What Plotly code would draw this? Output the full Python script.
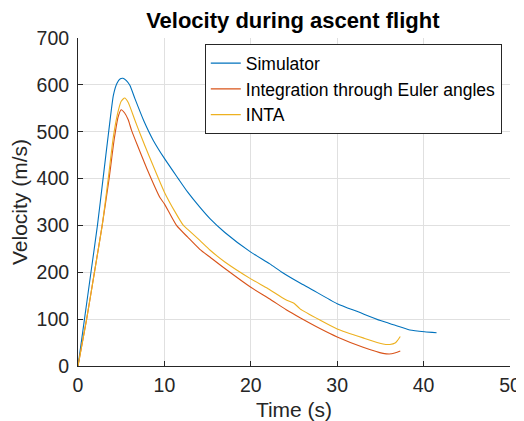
import plotly.graph_objects as go

# Simulator
t_sim = [0, 0.75, 1.5, 2.25, 2.9, 3.55, 4.1, 4.5, 4.9, 5.2, 5.6, 6.0, 6.6, 7.6, 8.7, 10.0, 11.6, 12.7,
         14.1, 15.3, 17.0, 20.0, 22.2, 23.6, 25.7, 26.9, 30.0, 32.5, 35.0, 36.5, 38.4, 40.1, 41.5]
v_sim = [0, 100, 200, 300, 400, 500, 578, 603, 613, 614, 609, 599, 570, 524, 482, 443, 400, 371,
         339, 314, 285, 243, 218, 200, 177, 165, 133, 115, 97, 88, 77, 73, 71]

# Integration through Euler angles
t_eul = [0, 1.0, 1.9, 2.8, 3.6, 4.2, 4.65, 5.0, 5.4, 5.8, 6.2, 6.9, 8.0, 9.5, 10.0, 11.4, 12.7,
         14.1, 15.3, 17.0, 20.0, 22.2, 24.1, 25.7, 28.0, 30.0, 33.0, 35.3, 36.3, 37.3]
v_eul = [0, 100, 200, 300, 400, 485, 532, 547, 540, 526, 503, 470, 420, 359, 346, 300, 275,
         249, 232, 208, 168, 143, 120, 103, 80, 62, 40, 27, 26, 32]

# INTA
t_inta = [0, 1.0, 1.9, 2.8, 3.5, 4.1, 4.6, 5.0, 5.4, 5.8, 6.6, 7.2, 8.3, 10.0, 11.2, 12.2, 12.8,
          14.1, 15.3, 17.0, 20.0, 22.0, 24.0, 25.0, 25.7, 28.0, 30.0, 33.0, 35.3, 36.1, 36.7, 37.0, 37.3]
v_inta = [0, 100, 200, 300, 400, 490, 540, 565, 572, 563, 524, 495, 445, 371, 330, 300, 290,
          268, 247, 222, 186, 165, 142, 134, 122, 98, 79, 60, 47, 46, 49, 55, 63]

series = [
    ("Simulator", t_sim, v_sim, "#0072BD"),
    ("Integration through Euler angles", t_eul, v_eul, "#D95319"),
    ("INTA", t_inta, v_inta, "#EDB120"),
]

x_ticks = [0, 10, 20, 30, 40, 50]
y_ticks = [0, 100, 200, 300, 400, 500, 600, 700]

FONT = "Liberation Sans, Arial, Helvetica, sans-serif"
AX = "#262626"

fig = go.Figure()
for name, t, v, c in series:
    fig.add_trace(go.Scatter(x=t, y=v, mode="lines", name=name,
                             line=dict(color=c, width=1.1, shape="spline", smoothing=0.6)))

# page body has an 8px margin, so the figure is sized to fit the 524x421 window
fig.update_layout(
    width=516, height=413,
    margin=dict(l=70, r=14, t=30, b=55),
    paper_bgcolor="white", plot_bgcolor="white",
    font=dict(family=FONT, color=AX, size=19),
    title=dict(text="<b>Velocity during ascent flight</b>", x=0.552, xanchor="center",
               y=0.971, yanchor="middle", font=dict(size=22, color="#000000")),
    showlegend=True,
    legend=dict(x=0.981, xanchor="right", y=0.981, yanchor="top",
                bgcolor="white", bordercolor=AX, borderwidth=1,
                font=dict(size=17.5, color="#000000"), tracegroupgap=0,
                itemwidth=30),
)
fig.update_xaxes(range=[0, 50], tickvals=x_ticks, ticktext=[str(v) for v in x_ticks],
                 showgrid=True, gridcolor="#e0e0e0", gridwidth=1, zeroline=False,
                 showline=True, linecolor=AX, linewidth=1, mirror=False, automargin=False,
                 ticks="inside", ticklen=5, tickcolor=AX, tickfont=dict(size=19.5),
                 ticklabelstandoff=2,
                 title=dict(text="Time (s)", font=dict(size=21), standoff=13))
fig.update_yaxes(range=[0, 700], tickvals=y_ticks, ticktext=[str(v) for v in y_ticks],
                 showgrid=True, gridcolor="#e0e0e0", gridwidth=1, zeroline=False,
                 showline=True, linecolor=AX, linewidth=1, mirror=False, automargin=False,
                 ticks="inside", ticklen=5, tickcolor=AX, tickfont=dict(size=19.5),
                 ticklabelstandoff=4,
                 title=dict(text="Velocity (m/s)", font=dict(size=21), standoff=4))

fig.write_html("out.html")
